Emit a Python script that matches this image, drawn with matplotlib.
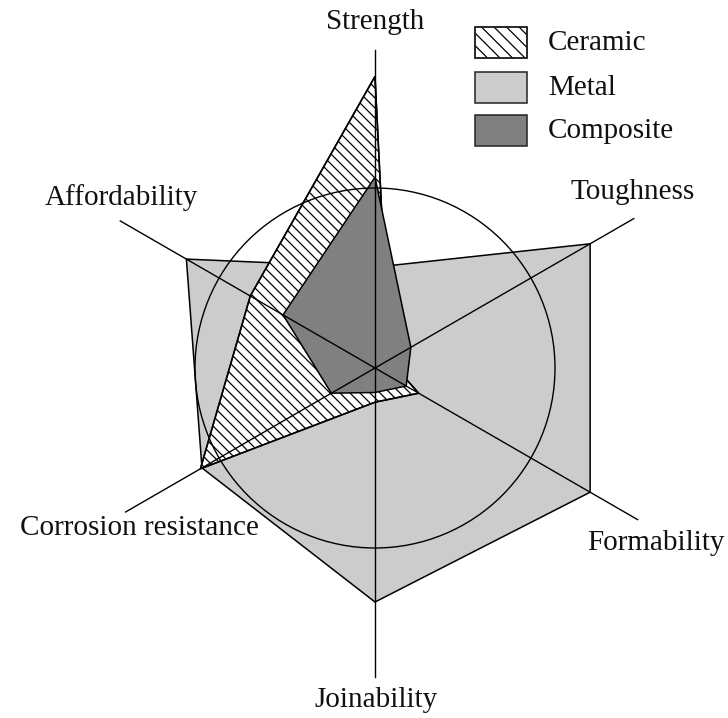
import numpy as np
import matplotlib
matplotlib.use("Agg")
import matplotlib.pyplot as plt
from matplotlib.patches import Polygon, Rectangle, Circle
from matplotlib.collections import LineCollection

# ---- data ----
categories = ["Strength", "Toughness", "Formability", "Joinability",
              "Corrosion resistance", "Affordability"]
ceramic = [8.1, 0.45, 1.4, 0.95, 5.6, 4.0]
metal = [2.8, 6.9, 6.9, 6.5, 5.55, 6.05]
composite = [5.3, 1.15, 1.0, 0.68, 1.4, 2.95]
series_names = ["Ceramic", "Metal", "Composite"]

# ---- layout / style ----
angles = np.deg2rad([90, 30, -30, -90, -150, 150])
axis_len = [8.83, 8.3, 8.42, 8.58, 8.0, 8.17]
ref_circle = 5.0
W, H = 728, 718
cx, cy = 375, 368
ppu = 36.0

plt.rcParams['font.family'] = ['Liberation Serif', 'DejaVu Serif']

fig = plt.figure(figsize=(W / 100, H / 100), dpi=100)
ax = fig.add_axes([0, 0, 1, 1])
ax.set_xlim(-cx / ppu, (W - cx) / ppu)
ax.set_ylim(-(H - cy) / ppu, cy / ppu)
ax.axis('off')


def xy(vals):
    v = np.asarray(vals)
    return np.column_stack([v * np.cos(angles), v * np.sin(angles)])


def P(px, py):
    return ((px - cx) / ppu, (cy - py) / ppu)


def add_hatch(patch, spacing_px, lw, zorder):
    s = spacing_px / ppu
    cs = np.arange(-40, 40, s)
    segs = [[(-20, 20 + c), (20, -20 + c)] for c in cs]
    lc = LineCollection(segs, colors='black', linewidths=lw, zorder=zorder)
    ax.add_collection(lc)
    lc.set_clip_path(patch)


lw = 1.1
ax.add_patch(Polygon(xy(metal), closed=True, facecolor='#cccccc',
                     edgecolor='black', lw=lw, zorder=1))
cer = Polygon(xy(ceramic), closed=True, facecolor='white',
              edgecolor='black', lw=lw, zorder=2)
ax.add_patch(cer)
add_hatch(cer, 10.0, 0.9, 2.1)
cer_edge = Polygon(xy(ceramic), closed=True, fill=False,
                   edgecolor='black', lw=lw, zorder=2.2)
ax.add_patch(cer_edge)
ax.add_patch(Polygon(xy(composite), closed=True, facecolor='#808080',
                     edgecolor='black', lw=lw, zorder=3))

# spokes and reference circle
for a, L in zip(angles, axis_len):
    ax.plot([0, L * np.cos(a)], [0, L * np.sin(a)], color='black', lw=1.0,
            zorder=4)
ax.add_patch(Circle((0, 0), ref_circle, fill=False, edgecolor='black',
                    lw=1.0, zorder=4))

# axis labels (pixel positions)
label_pos = [(375, 22), (633, 192), (656, 543), (376, 700), (139, 528),
             (121, 198)]
for name, (px, py) in zip(categories, label_pos):
    fig.text(px / W, 1 - py / H, name, ha='center', va='center',
             fontsize=21, color='#111111')

# legend
colors = ['white', '#cccccc', '#808080']
box_y = [27, 72, 115]
for i, (name, c, by) in enumerate(zip(series_names, colors, box_y)):
    x0, y0 = P(475, by + 31)
    r = Rectangle((x0, y0), 52 / ppu, 31 / ppu, facecolor=c,
                  edgecolor='#222222', lw=1.1, zorder=5)
    ax.add_patch(r)
    if i == 0:
        add_hatch(r, 12.5, 0.9, 5.1)
        ax.add_patch(Rectangle((x0, y0), 52 / ppu, 31 / ppu, fill=False,
                               edgecolor='#222222', lw=1.1, zorder=5.2))
    fig.text(548 / W, 1 - (by + 16) / H, name, ha='left', va='center',
             fontsize=21, color='#111111')

fig.savefig('out.png', dpi=100)
